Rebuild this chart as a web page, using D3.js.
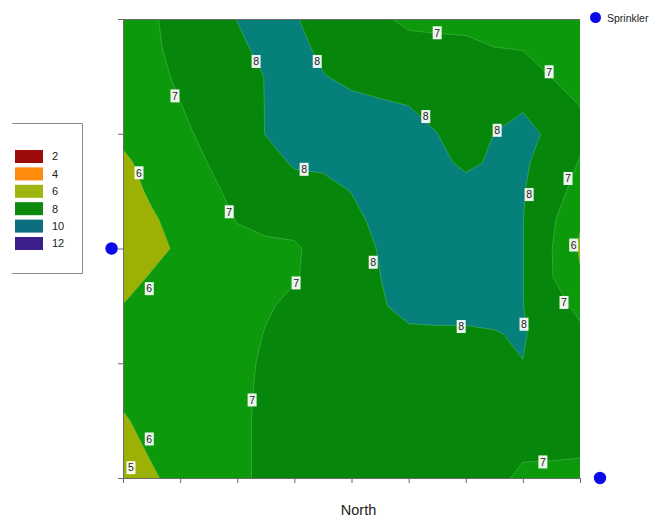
<!DOCTYPE html>
<html>
<head>
<meta charset="utf-8">
<script src="https://cdn.jsdelivr.net/npm/d3@7"></script>
<style>
  html, body { margin: 0; padding: 0; background: #ffffff; }
  svg { display: block; font-family: "Liberation Sans", Arial, sans-serif; }
</style>
</head>
<body>
<svg id="chart" width="672" height="517"></svg>
<script>
// Soil moisture field sampled on a 17 x 17 grid (rows from the top edge of the field down).
const gridCols = 17;
const gridRows = 17;
const moisture = [
  [6.40, 6.90, 7.31, 7.68, 8.02, 8.45, 8.05, 7.74, 7.43, 7.15, 6.80, 6.78, 6.73, 6.58, 6.46, 6.27, 6.20],
  [6.33, 6.84, 7.27, 7.56, 7.82, 8.25, 8.26, 7.81, 7.57, 7.37, 7.30, 7.22, 7.20, 7.01, 6.96, 6.63, 6.27],
  [6.35, 6.72, 7.15, 7.40, 7.62, 8.03, 8.47, 8.04, 7.80, 7.70, 7.62, 7.54, 7.43, 7.40, 7.35, 6.98, 6.62],
  [6.30, 6.53, 6.98, 7.32, 7.64, 8.02, 8.50, 8.47, 8.21, 8.09, 7.99, 7.76, 7.66, 7.78, 7.91, 7.43, 6.98],
  [6.18, 6.46, 6.82, 7.20, 7.58, 8.02, 8.40, 8.60, 8.70, 8.60, 8.50, 8.01, 7.60, 8.01, 8.26, 7.84, 7.20],
  [5.85, 6.28, 6.64, 7.02, 7.40, 7.77, 8.07, 8.18, 8.37, 8.70, 8.60, 8.24, 7.80, 8.14, 8.15, 7.56, 6.95],
  [5.67, 6.12, 6.46, 6.84, 7.20, 7.53, 7.77, 7.70, 8.02, 8.45, 8.70, 8.60, 8.37, 8.40, 8.06, 7.30, 6.73],
  [5.44, 5.90, 6.28, 6.66, 7.03, 7.25, 7.26, 7.47, 7.80, 8.20, 8.65, 8.70, 8.70, 8.50, 8.02, 7.17, 6.06],
  [5.35, 5.74, 6.14, 6.51, 6.80, 6.81, 6.90, 7.28, 7.67, 8.05, 8.54, 8.70, 8.70, 8.50, 8.02, 7.03, 5.90],
  [5.68, 6.07, 6.35, 6.50, 6.55, 6.60, 6.94, 7.27, 7.64, 7.99, 8.49, 8.70, 8.70, 8.50, 8.02, 7.05, 6.07],
  [6.02, 6.25, 6.40, 6.55, 6.75, 6.90, 7.20, 7.38, 7.68, 7.91, 8.26, 8.35, 8.35, 8.29, 8.02, 7.33, 6.80],
  [6.30, 6.38, 6.40, 6.45, 6.60, 7.05, 7.35, 7.45, 7.50, 7.60, 7.84, 7.84, 7.84, 7.94, 8.12, 7.30, 7.17],
  [6.38, 6.45, 6.52, 6.60, 6.70, 7.16, 7.40, 7.50, 7.60, 7.65, 7.60, 7.60, 7.60, 7.70, 7.98, 7.45, 7.35],
  [6.22, 6.40, 6.52, 6.62, 6.72, 7.22, 7.40, 7.45, 7.50, 7.55, 7.55, 7.55, 7.55, 7.55, 7.50, 7.45, 7.40],
  [5.89, 6.34, 6.42, 6.61, 6.80, 7.20, 7.40, 7.45, 7.50, 7.50, 7.50, 7.50, 7.50, 7.50, 7.45, 7.45, 7.40],
  [5.66, 6.11, 6.40, 6.60, 6.80, 7.20, 7.40, 7.45, 7.50, 7.50, 7.50, 7.50, 7.45, 7.40, 7.20, 7.20, 7.15],
  [5.02, 5.88, 6.31, 6.60, 6.80, 7.20, 7.40, 7.45, 7.50, 7.50, 7.50, 7.50, 7.45, 7.33, 6.75, 6.70, 6.65]
];

// Contour levels and the fill used from each level upward.
const levels = [5, 6, 7, 8];
const levelColors = ["#9db105", "#0c990c", "#06860b", "#05807a"];

// Legend scale.
const legendValues = [2, 4, 6, 8, 10, 12];
const legendColors = ["#9e0b0b", "#ff8b0c", "#9fb50f", "#0b8a0b", "#0b6f80", "#3d1f8c"];

// Axis ticks (no tick labels are shown).
const xTicks = [0, 1, 2, 3, 4, 5, 6, 7, 8];
const yTicks = [0, 1, 2, 3, 4];

// Level labels placed along the contour lines (field units).
const labelLevels = [7, 7, 8, 8, 7, 8, 8, 6, 8, 7, 7, 8, 6, 8, 7, 6, 7, 8, 8, 7, 6, 5, 7];
const labelX = [5.50, 7.46, 2.33, 3.40, 0.91, 5.30, 6.55, 0.28, 3.17, 7.79, 1.86, 7.11, 7.89, 4.38, 3.03, 0.46, 7.72, 5.92, 7.02, 2.26, 0.46, 0.14, 7.35];
const labelY = [3.88, 3.54, 3.63, 3.63, 3.33, 3.15, 3.03, 2.66, 2.69, 2.61, 2.32, 2.47, 2.03, 1.88, 1.70, 1.65, 1.53, 1.32, 1.34, 0.68, 0.34, 0.09, 0.14];

// Sprinkler heads (field units).
const sprinklerX = [-0.2, 8.35];
const sprinklerY = [2.0, 0.0];

const svg = d3.select("#chart");
const plot = { left: 123, right: 580, top: 19, bottom: 478 };

const x = d3.scaleLinear().domain([0, 8]).range([plot.left, plot.right]);
const y = d3.scaleLinear().domain([0, 4]).range([plot.bottom, plot.top]);

// Grid index -> field units: columns every 0.5, rows every 0.25 from the top.
const colToX = c => (c - 0.5) * 0.5;
const rowToY = r => 4 - (r - 0.5) * 0.25;

const projection = d3.geoTransform({
  point: function (px, py) { this.stream.point(x(colToX(px)), y(rowToY(py))); }
});
const path = d3.geoPath(projection);

svg.append("clipPath").attr("id", "plot-clip")
  .append("rect")
  .attr("x", plot.left).attr("y", plot.top)
  .attr("width", plot.right - plot.left).attr("height", plot.bottom - plot.top);

const contours = d3.contours()
  .size([gridCols, gridRows])
  .thresholds(levels)(moisture.flat());

const field = svg.append("g").attr("clip-path", "url(#plot-clip)");
field.selectAll("path.band")
  .data(contours)
  .join("path")
  .attr("class", "band")
  .attr("d", path)
  .attr("fill", (d, i) => levelColors[i])
  .attr("stroke", (d, i) => i === 0 ? "none" : "#7fd07f")
  .attr("stroke-opacity", 0.45)
  .attr("stroke-width", 0.8);

// Frame and axes
svg.append("line")
  .attr("x1", plot.left).attr("x2", plot.right)
  .attr("y1", plot.top + 0.5).attr("y2", plot.top + 0.5)
  .attr("stroke", "#6a6a6a").attr("stroke-width", 1);

const xAxis = svg.append("g")
  .attr("transform", `translate(0,${plot.bottom})`)
  .call(d3.axisBottom(x).tickValues(xTicks).tickFormat("").tickSize(5).tickSizeOuter(0));
const yAxis = svg.append("g")
  .attr("transform", `translate(${plot.left},0)`)
  .call(d3.axisLeft(y).tickValues(yTicks).tickFormat("").tickSize(5).tickSizeOuter(0));
[xAxis, yAxis].forEach(a => {
  a.selectAll("path, line").attr("stroke", "#6a6a6a");
});

// Contour level labels
const labels = svg.append("g").selectAll("g")
  .data(labelLevels.map((v, i) => ({ v, x: labelX[i], y: labelY[i] })))
  .join("g")
  .attr("transform", d => `translate(${x(d.x)},${y(d.y)})`);
labels.append("rect")
  .attr("x", -4.5).attr("y", -6.5).attr("width", 9).attr("height", 13)
  .attr("fill", "#ffffff").attr("fill-opacity", 0.92);
labels.append("text")
  .attr("text-anchor", "middle").attr("dy", "0.36em")
  .attr("font-size", 10.5).attr("fill", "#222")
  .text(d => d.v);

// Sprinklers
svg.append("g").selectAll("circle")
  .data(sprinklerX.map((v, i) => ({ x: v, y: sprinklerY[i] })))
  .join("circle")
  .attr("cx", d => x(d.x)).attr("cy", d => y(d.y))
  .attr("r", 6.2).attr("fill", "#0a0ae8");

// Series legend
svg.append("circle").attr("cx", 595.5).attr("cy", 17.5).attr("r", 5.5).attr("fill", "#0a0ae8");
svg.append("text").attr("x", 607).attr("y", 21.5).attr("font-size", 10.5).attr("fill", "#222")
  .text("Sprinkler");

// Colour legend
const legend = svg.append("g");
legend.append("path")
  .attr("d", "M12,123.5H82.5V273.5H12")
  .attr("fill", "none").attr("stroke", "#8a8a8a").attr("stroke-width", 1);
const li = legend.selectAll("g.item")
  .data(legendValues.map((v, i) => ({ v, c: legendColors[i] })))
  .join("g").attr("class", "item")
  .attr("transform", (d, i) => `translate(15,${150 + i * 17.4})`);
li.append("rect").attr("width", 28).attr("height", 13).attr("fill", d => d.c);
li.append("text").attr("x", 37).attr("y", 6.5).attr("dy", "0.35em")
  .attr("font-size", 11).attr("fill", "#222").text(d => d.v);

// Axis title
svg.append("text")
  .attr("x", (plot.left + plot.right) / 2 + 7).attr("y", 515)
  .attr("text-anchor", "middle").attr("font-size", 14.5).attr("fill", "#222")
  .text("North");
</script>
</body>
</html>
